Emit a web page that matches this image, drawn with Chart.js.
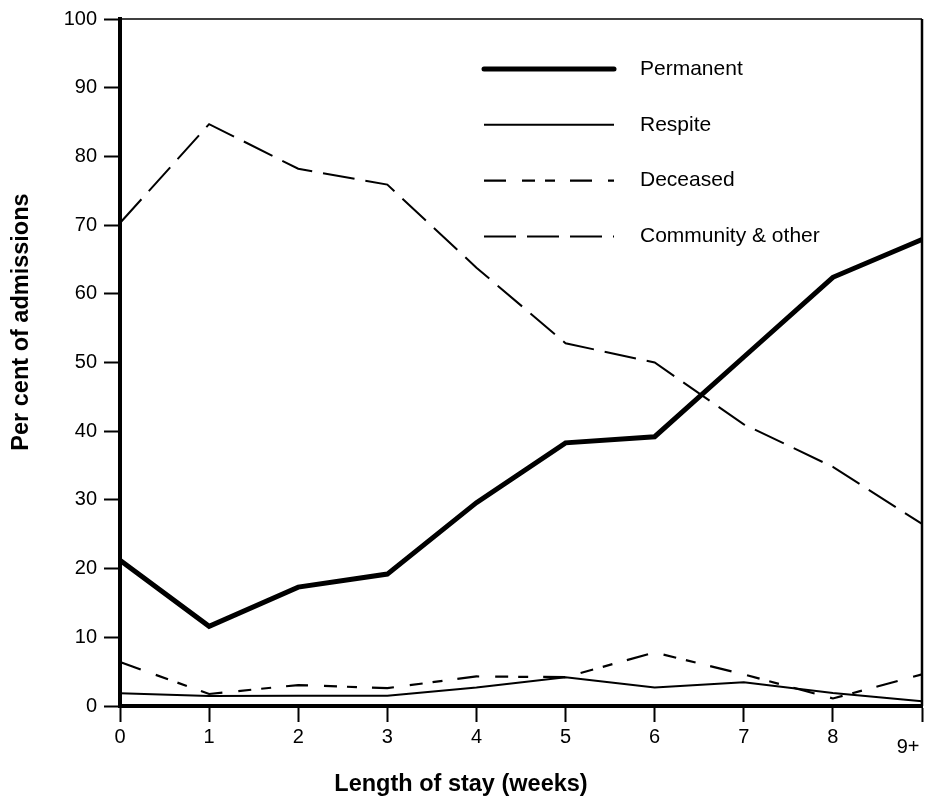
<!DOCTYPE html>
<html>
<head>
<meta charset="utf-8">
<title>Length of stay</title>
<script src="https://cdn.jsdelivr.net/npm/chart.js@4.4.1/dist/chart.umd.min.js"></script>
<style>
  html, body { margin: 0; padding: 0; background: #fff; }
  canvas { display: block; }
</style>
</head>
<body>
<canvas id="stayChart" width="928" height="798"></canvas>
<script>
/* ── Data ─────────────────────────────────────────── */
const weeks      = ['0','1','2','3','4','5','6','7','8','9+'];
const permanent  = [21.2, 11.6, 17.3, 19.2, 29.6, 38.3, 39.2, 50.8, 62.4, 67.9];
const respite    = [1.85, 1.45, 1.5, 1.5, 2.7, 4.2, 2.7, 3.45, 1.9, 0.7];
const deceased   = [6.4, 1.75, 3.05, 2.6, 4.3, 4.2, 7.8, 4.6, 1.1, 4.6];
const community  = [70.3, 84.7, 78.2, 75.9, 63.8, 52.8, 50.0, 41.0, 34.8, 26.5];
const yTicks     = [0,10,20,30,40,50,60,70,80,90,100];

const FONT = '"Liberation Sans", Arial, Helvetica, sans-serif';
Chart.defaults.font.family = FONT;
Chart.defaults.color = '#000';

const line = (label, data, width, dash) => ({
  label, data,
  borderColor: '#000',
  borderWidth: width,
  borderDash: dash,
  borderCapStyle: 'butt',
  borderJoinStyle: 'miter',
  pointRadius: 0,
  tension: 0,
  fill: false
});

/* ── Frame, legend and axis titles ────────────────── */
const framePlugin = {
  id: 'frame',
  beforeDatasetsDraw(chart) {
    const { ctx, chartArea: a } = chart;
    ctx.save();
    ctx.strokeStyle = '#000';
    ctx.lineWidth = 1.5;
    ctx.beginPath();
    ctx.moveTo(a.left, a.top);
    ctx.lineTo(a.right, a.top);
    ctx.stroke();
    ctx.lineWidth = 2.5;
    ctx.beginPath();
    ctx.moveTo(a.right, a.top);
    ctx.lineTo(a.right, a.bottom);
    ctx.stroke();
    ctx.restore();
  },
  afterDraw(chart) {
    const { ctx } = chart;
    ctx.save();
    // legend inside the plot
    chart.data.datasets.forEach((ds, i) => {
      const y = 69 + i * 55.8;
      ctx.strokeStyle = '#000';
      ctx.lineWidth = ds.borderWidth;
      ctx.lineCap = ds.borderWidth > 3 ? 'round' : 'butt';
      ctx.setLineDash(ds.borderDash || []);
      ctx.beginPath();
      ctx.moveTo(484, y);
      ctx.lineTo(614, y);
      ctx.stroke();
      ctx.setLineDash([]);
      ctx.fillStyle = '#000';
      ctx.font = '21px ' + FONT;
      ctx.textAlign = 'left';
      ctx.textBaseline = 'middle';
      ctx.fillText(ds.label, 640, y);
    });
    // axis titles
    ctx.font = 'bold 23.5px ' + FONT;
    ctx.textAlign = 'center';
    ctx.textBaseline = 'middle';
    ctx.fillText('Length of stay (weeks)', 461, 785);
    ctx.translate(22, 322);
    ctx.rotate(-Math.PI / 2);
    ctx.fillText('Per cent of admissions', 0, 0);
    ctx.restore();
  }
};

new Chart(document.getElementById('stayChart'), {
  type: 'line',
  data: {
    labels: weeks.map(w => w === '9+' ? ['', '9+     '] : w),
    datasets: [
      line('Permanent', permanent, 5, []),
      line('Respite', respite, 2, []),
      line('Deceased', deceased, 2.2, [22,16,13,10,10,15]),
      line('Community & other', community, 2, [32,11])
    ]
  },
  options: {
    responsive: false,
    animation: false,
    layout: { autoPadding: false, padding: { top: 19, right: 6, left: 0, bottom: 0 } },
    plugins: { legend: { display: false }, tooltip: { enabled: false } },
    scales: {
      x: {
        offset: false,
        afterFit: s => { s.height = 92; s.paddingLeft = 0; s.paddingRight = 0; },
        grid: { drawOnChartArea: false, drawTicks: true, tickLength: 16, tickWidth: 2, color: '#000' },
        border: { display: true, width: 4, color: '#000' },
        ticks: {
          color: '#000', padding: 3, maxRotation: 0, autoSkip: false,
          font: c => c.index === 9 ? { size: 20, lineHeight: '15px' } : { size: 20, lineHeight: 1.2 }
        }
      },
      y: {
        min: 0, max: 100,
        afterFit: s => { s.width = 120; s.paddingTop = 0; s.paddingBottom = 0; },
        afterBuildTicks: s => { s.ticks = yTicks.map(v => ({ value: v })); },
        grid: { drawOnChartArea: false, drawTicks: true, tickLength: 16, tickWidth: 2, color: '#000' },
        border: { display: true, width: 4, color: '#000' },
        ticks: { color: '#000', padding: 7, font: { size: 20 } }
      }
    }
  },
  plugins: [framePlugin]
});
</script>
</body>
</html>
